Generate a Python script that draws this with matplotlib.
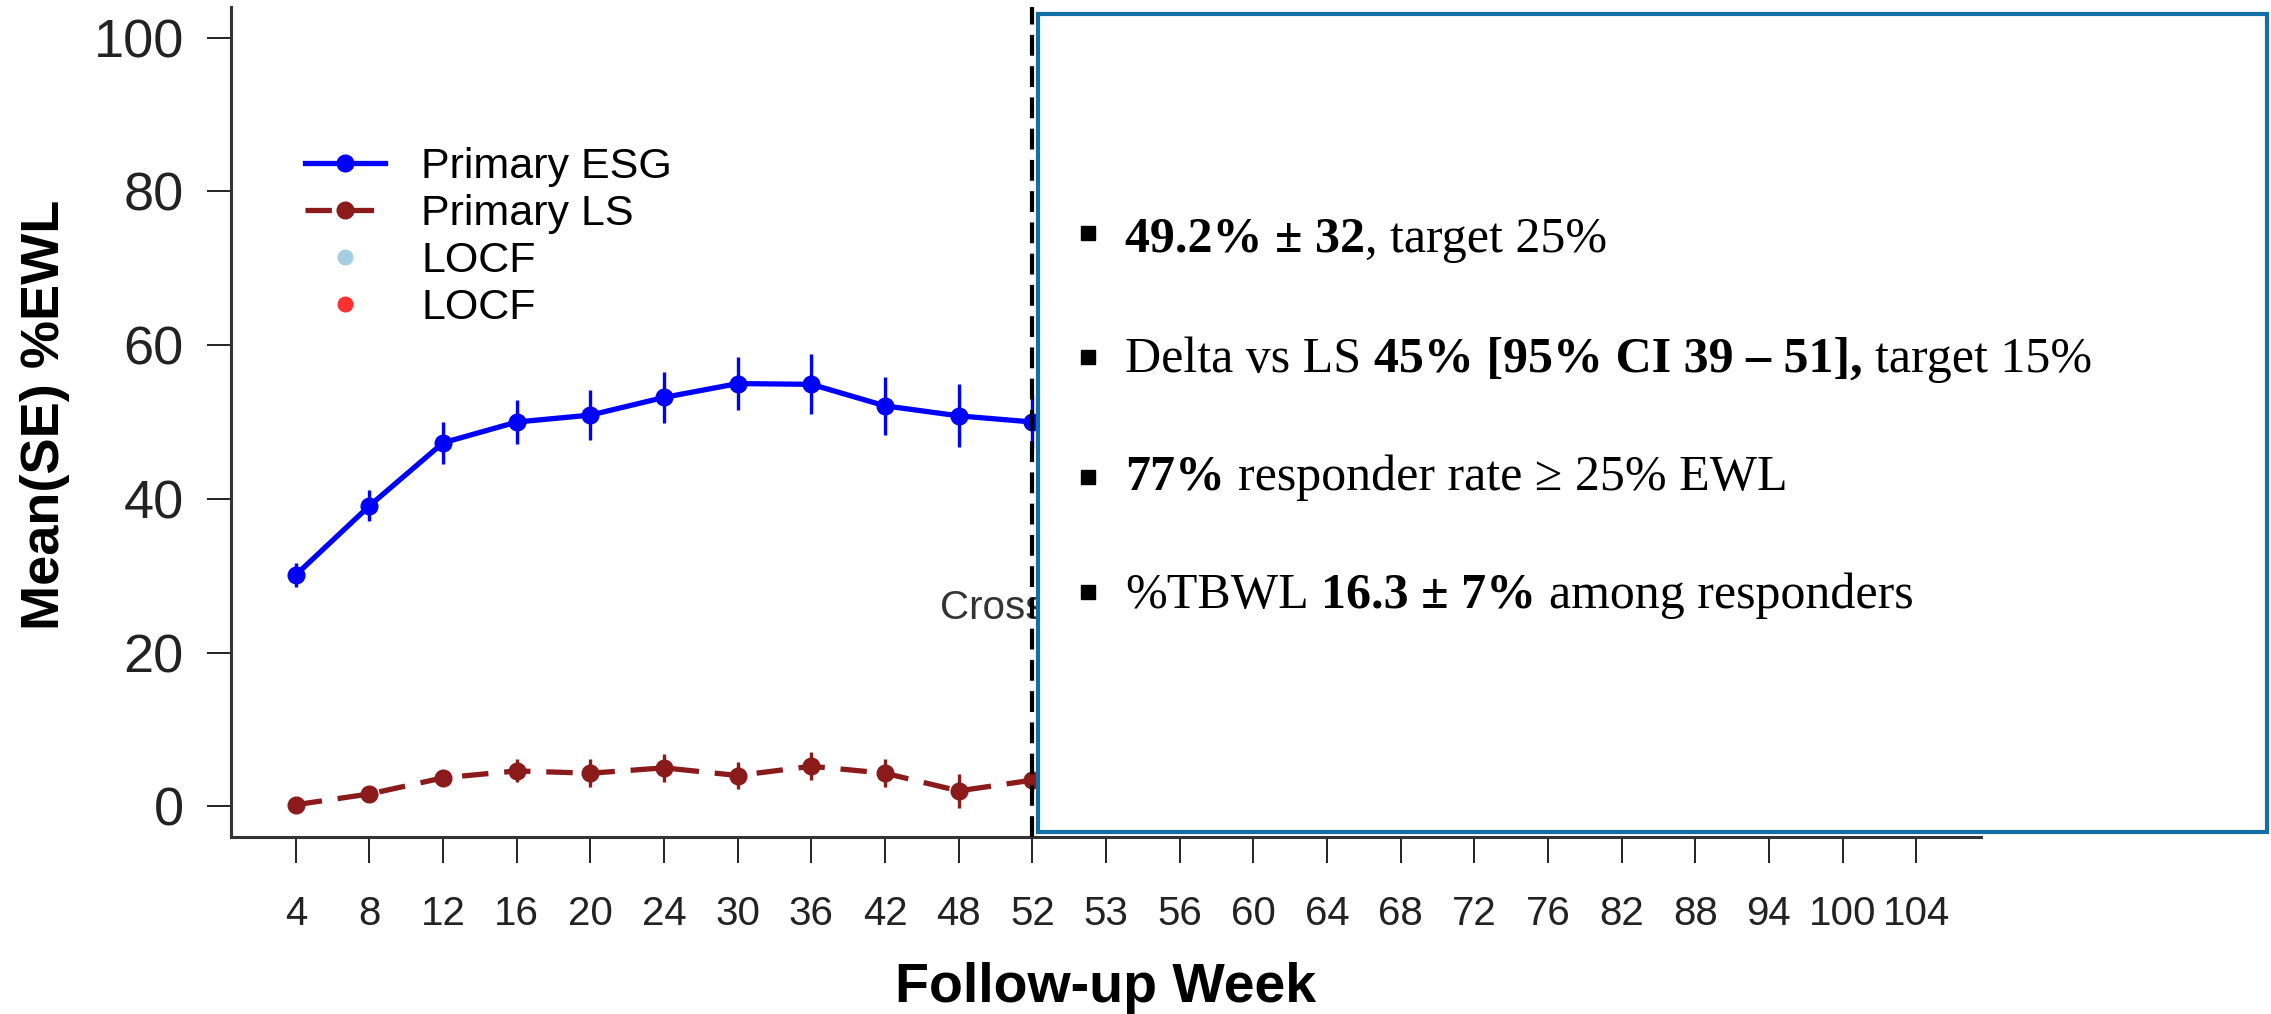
import matplotlib
matplotlib.use("Agg")
import matplotlib.pyplot as plt
from matplotlib.lines import Line2D
from matplotlib.patches import Rectangle
from matplotlib.text import Annotation

plt.rcParams['font.family'] = ['Liberation Sans', 'DejaVu Sans']

# follow-up weeks (categorical axis)
weeks = ["4", "8", "12", "16", "20", "24", "30", "36", "42", "48", "52", "53", "56",
         "60", "64", "68", "72", "76", "82", "88", "94", "100", "104"]

# visible part of the series (weeks 4..52), rest is covered by the text box
esg_mean = [30.1, 39.1, 47.3, 50.0, 50.9, 53.2, 55.0, 54.9, 52.1, 50.8, 50.0]
esg_se = [1.6, 2.0, 2.7, 2.8, 3.3, 3.3, 3.5, 3.9, 3.8, 4.1, 3.5]
ls_mean = [0.2, 1.6, 3.7, 4.6, 4.3, 5.0, 4.0, 5.2, 4.3, 2.0, 3.4]
ls_se = [0.6, 0.8, 1.0, 1.5, 1.8, 1.8, 1.8, 1.8, 1.8, 2.2, 1.5]

crossover_week = "52"
crossover_label = "Crossover"
crossover_y = 25.8

esg_color = "#0000FF"
ls_color = "#8B1A1A"

W, H = 2271, 1014
fig = plt.figure(figsize=(W / 100, H / 100), dpi=100)
ax = fig.add_axes([231 / W, 1 - 837 / H, 1750 / W, 830 / H])

x_all = list(range(len(weeks)))
x_vis = x_all[:len(esg_mean)]

ax.errorbar(x_vis, esg_mean, yerr=esg_se, color=esg_color, lw=3.8, marker='o',
            ms=12, elinewidth=2.4, capsize=0, zorder=3)
ax.errorbar(x_vis, ls_mean, yerr=ls_se, color=ls_color, lw=3.8, marker='o',
            ms=12, elinewidth=2.4, capsize=0, ls=(0, (5, 3)), zorder=3)

xc = weeks.index(crossover_week)
ax.axvline(xc, color='black', lw=3, ls=(0, (5, 2.5)), zorder=4)
ax.text(xc, crossover_y, crossover_label, ha='center', va='center',
        fontsize=29, color='#333333')

ax.set_xlim(-0.88, len(weeks) - 1 + 0.88)
ax.set_ylim(-4, 104)
ax.set_xticks(x_all)
ax.set_xticklabels(weeks)
ax.set_yticks([0, 20, 40, 60, 80, 100])
ax.tick_params(axis='x', length=19, width=1.4, pad=23, labelsize=29,
               colors='#222222')
ax.tick_params(axis='y', length=17, width=1.4, pad=17, labelsize=39,
               colors='#222222')
for s in ['top', 'right']:
    ax.spines[s].set_visible(False)
for s in ['left', 'bottom']:
    ax.spines[s].set_linewidth(2.2)
    ax.spines[s].set_color('#333333')

ax.set_ylabel("Mean(SE) %EWL", fontsize=39, fontweight='bold')
ax.yaxis.set_label_coords(-0.092, 0.508)
ax.set_xlabel("Follow-up Week", fontsize=40, fontweight='bold', va='top')
ax.xaxis.set_label_coords(0.5, -0.15)

handles = [
    Line2D([], [], color=esg_color, lw=3.8, marker='o', ms=12),
    Line2D([], [], color=ls_color, lw=3.8, marker='o', ms=12, ls=(0, (5, 3))),
    Line2D([], [], color='#A6CEE3', lw=0, marker='o', ms=10.5),
    Line2D([], [], color='#FF3030', lw=0, marker='o', ms=10.5),
]
labels = ["Primary ESG", "Primary LS", "LOCF", "LOCF"]
fig.legend(handles, labels, loc='upper left', bbox_to_anchor=(305 / W, 1 - 147 / H),
           frameon=False, fontsize=31, handlelength=1.85, handletextpad=0.85,
           labelspacing=0.16, borderpad=0, borderaxespad=0, numpoints=1)

# text box on top
box = Rectangle((1038 / W, 1 - 832 / H), (2267 - 1038) / W, (832 - 14) / H,
                transform=fig.transFigure, facecolor='white', edgecolor='#1170A8',
                lw=3, zorder=5)
fig.add_artist(box)

serif = ['Liberation Serif', 'DejaVu Serif']
tsize = 36
bullet_lines = [
    [("49.2% \u00b1 32", True, False), (", target 25%", False, False)],
    [("Delta vs LS", False, False), ("45% [95% CI 39 \u2013 51],", True, True),
     ("target 15%", False, True)],
    [("77%", True, False), ("responder rate \u2265 25% EWL", False, True)],
    [("%TBWL", False, False), ("16.3 \u00b1 7%", True, True),
     ("among responders", False, True)],
]
baselines = [252, 372, 490, 608]
bullet_y = [233, 357, 477, 592]

for segs, yb, by in zip(bullet_lines, baselines, bullet_y):
    fig.add_artist(Line2D([1088 / W], [1 - by / H], marker='s', ms=10.5,
                          color='black', lw=0, transform=fig.transFigure, zorder=6))
    last = None
    for txt, bold, space in segs:
        w = 'bold' if bold else 'normal'
        if last is None:
            last = fig.text(1125 / W, 1 - yb / H, txt, fontsize=tsize, family=serif,
                            fontweight=w, va='baseline', ha='left', zorder=6)
        else:
            gap = 0.25 * tsize if space else 0
            a = Annotation(txt, xy=(1, 0), xycoords=last, xytext=(gap, 0),
                           textcoords='offset points', va='bottom', ha='left',
                           fontsize=tsize, family=serif, fontweight=w,
                           annotation_clip=False, zorder=6)
            fig.add_artist(a)
            last = a

fig.savefig("out.png", dpi=100)
